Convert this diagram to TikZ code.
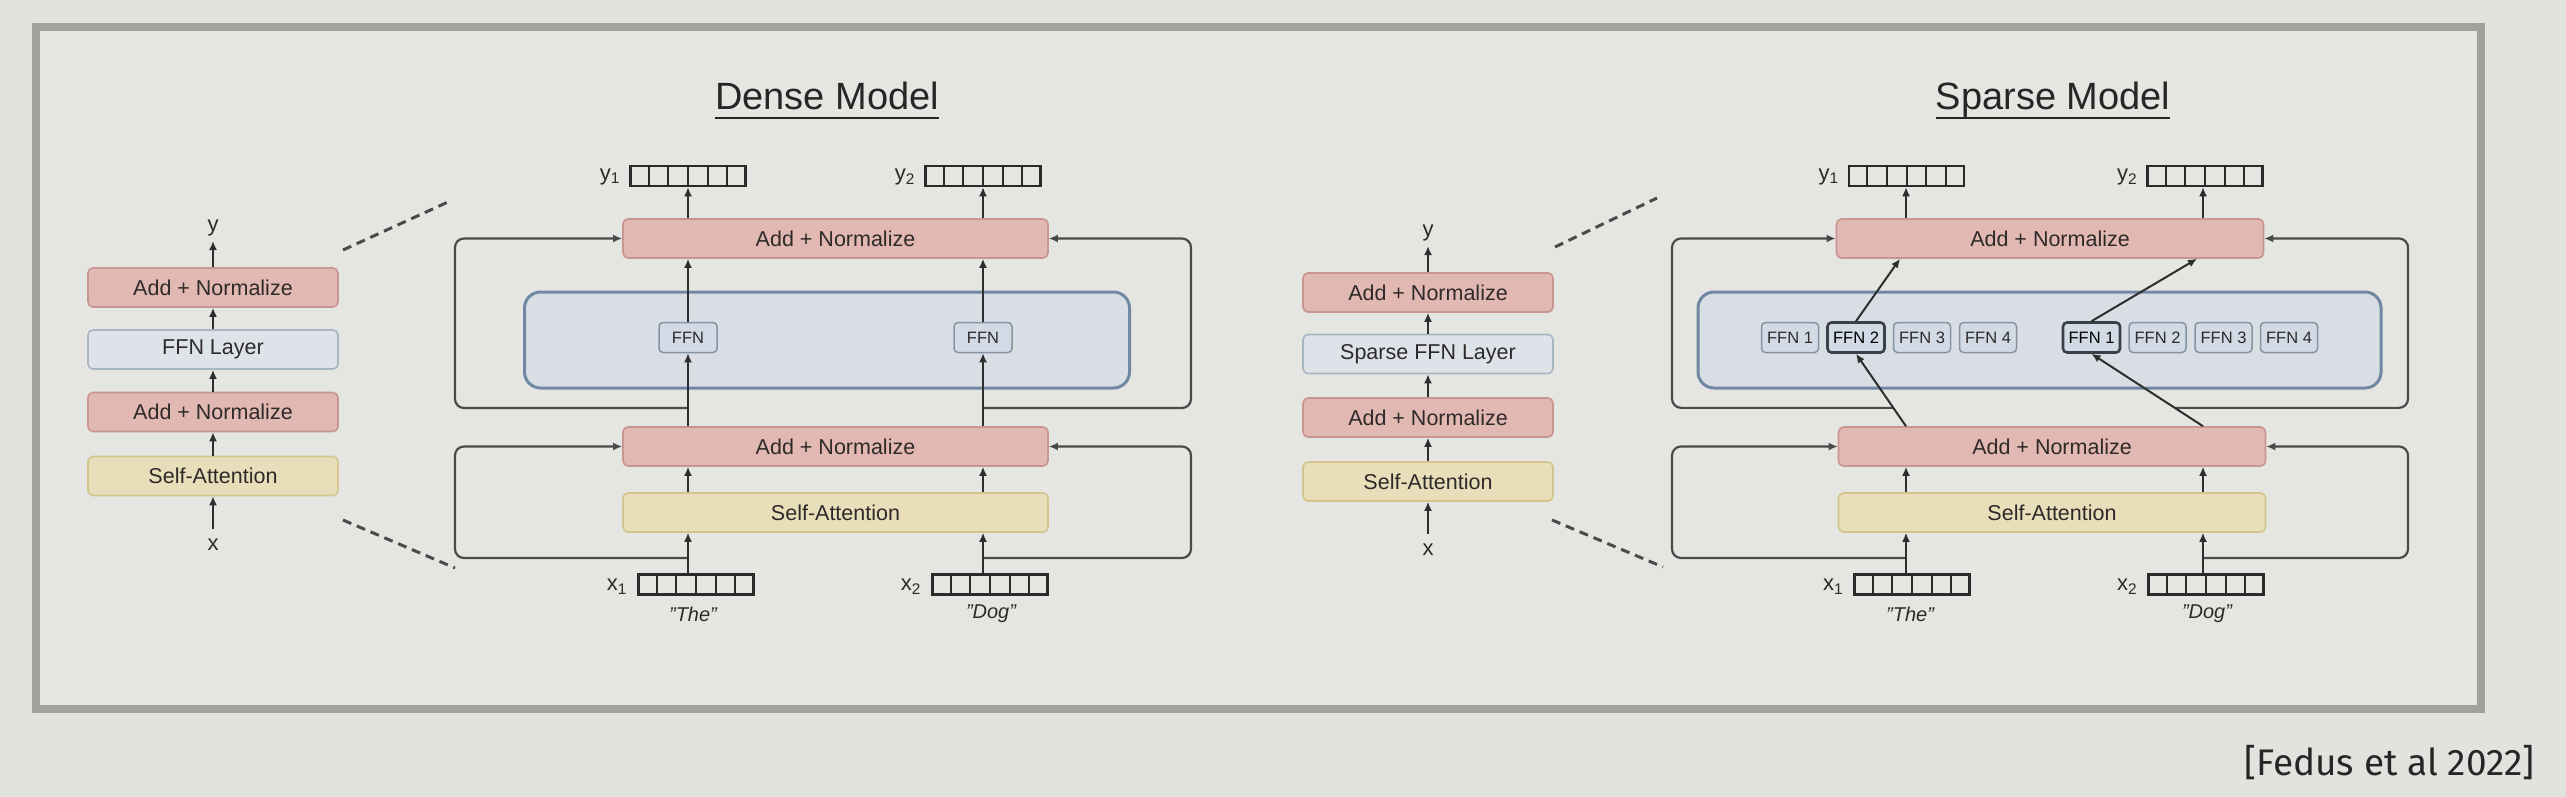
\documentclass[tikz,border=0pt]{standalone}
\usepackage{fontspec}
\setmainfont{Liberation Sans}
\newfontfamily\citefont{Fira Sans}
\usetikzlibrary{arrows.meta,calc}
\definecolor{bgc}{HTML}{E2E2DF}
\definecolor{innerc}{HTML}{E5E5E2}
\definecolor{framec}{HTML}{A2A29D}
\definecolor{anfill}{HTML}{E2B8B3}
\definecolor{anline}{HTML}{C99590}
\definecolor{safill}{HTML}{E8DEBA}
\definecolor{saline}{HTML}{D4C48E}
\definecolor{flfill}{HTML}{DDE3E8}
\definecolor{flline}{HTML}{A8B5C2}
\definecolor{ctfill}{HTML}{D8DEE3}
\definecolor{ctline}{HTML}{7088A3}
\definecolor{ffnfill}{HTML}{D2DBE5}
\definecolor{ffnline}{HTML}{8593A3}
\definecolor{selline}{HTML}{3A4048}
\definecolor{txtc}{HTML}{2F2A2A}
\definecolor{arrc}{HTML}{2E2E2E}
\definecolor{loopc}{HTML}{4A4A4A}
\definecolor{vecline}{HTML}{2A2A2A}
\definecolor{dshc}{HTML}{4A4A4A}
\definecolor{ttlc}{HTML}{262626}
\tikzset{
 blk/.style={rectangle, rounded corners=5pt, line width=1.6pt, inner sep=0pt, minimum height=39pt, text=txtc, font=\fontsize{21.5}{24}\selectfont},
 anbox/.style={blk, fill=anfill, draw=anline},
 sabox/.style={blk, fill=safill, draw=saline},
 flbox/.style={blk, fill=flfill, draw=flline},
 cont/.style={rectangle, rounded corners=16pt, line width=3pt, fill=ctfill, draw=ctline, inner sep=0pt},
 ffnbox/.style={rectangle, rounded corners=4pt, line width=1.5pt, fill=ffnfill, draw=ffnline, minimum width=57pt, minimum height=30pt, inner sep=0pt, font=\fontsize{16.5}{18}\selectfont, text=txtc},
 ffnsel/.style={ffnbox, draw=selline, line width=2.6pt, text=black},
 vecst/.style={rectangle, draw=vecline, line width=2.5pt, minimum width=115pt, minimum height=20pt, inner sep=0pt},
 arr/.style={-{Latex[length=9pt,width=8pt]}, line width=2pt, draw=arrc},
 loopl/.style={-{Latex[length=9pt,width=8pt]}, line width=2.2pt, draw=loopc, rounded corners=9pt},
 dsh/.style={dash pattern=on 9pt off 6pt, line width=3pt, draw=dshc},
 lbl/.style={inner sep=0pt, font=\fontsize{22}{24}\selectfont, text=txtc},
 wrd/.style={inner sep=0pt, font=\itshape\fontsize{20}{24}\selectfont, text=txtc},
 ttl/.style={inner sep=0pt, font=\fontsize{38}{40}\selectfont, text=ttlc},
}
\begin{document}
\begin{tikzpicture}[x=1pt,y=-1pt]
\useasboundingbox (0,0) rectangle (2566,797);
\fill[bgc] (0,0) rectangle (2566,797);
\draw[framec, line width=8pt, fill=innerc] (36,27) rectangle (2481,709);

% ---------- titles ----------
\node[ttl, anchor=base] (ttlD) at (827,110) {Dense Model};
\draw[ttlc, line width=2.5pt] ($(ttlD.base west)+(0,8)$) -- ($(ttlD.base east)+(0,8)$);
\node[ttl, anchor=base] (ttlS) at (2053,110) {Sparse Model};
\draw[ttlc, line width=2.5pt] ($(ttlS.base west)+(0,8)$) -- ($(ttlS.base east)+(0,8)$);

% ---------- dense mini stack ----------
\node[anbox, minimum width=250pt] (la1) at (213,287.5) {Add + Normalize};
\node[flbox, minimum width=250pt] (la2) at (213,349.5) {FFN Layer};
\node[anbox, minimum width=250pt] (la3) at (213,412) {Add + Normalize};
\node[sabox, minimum width=250pt] (la4) at (213,476) {Self-Attention};
\node[lbl, anchor=south] (lyl) at (213,236) {y};
\node[lbl] (lxl) at (213,545) {x};
\draw[arr, shorten <=10pt] (lxl.north) -- (la4.south);
\draw[arr] (la4.north) -- (la3.south);
\draw[arr] (la3.north) -- (la2.south);
\draw[arr] (la2.north) -- (la1.south);
\draw[arr, shorten >=5pt] (la1.north) -- (lyl.south);
\coordinate (dd1) at (343,250); \coordinate (dd2) at (448,202);
\coordinate (dd3) at (343,520); \coordinate (dd4) at (455,568);
\draw[dsh] (dd1) -- (dd2);
\draw[dsh] (dd3) -- (dd4);

% ---------- dense main ----------
\coordinate (dcL) at (688,0); \coordinate (dcR) at (983,0);
\coordinate (dxL) at (455,0); \coordinate (dxR) at (1191,0);
\node[cont, minimum width=605pt, minimum height=96pt] (dct) at (827,340) {};
\node[anbox, minimum width=425pt] (dtop) at (835.5,238.5) {Add + Normalize};
\node[anbox, minimum width=425pt] (dmid) at (835.5,446.5) {Add + Normalize};
\node[sabox, minimum width=425pt] (dsa) at (835.5,512.5) {Self-Attention};
\node[ffnbox, minimum width=58pt] (dfL) at (688,337.5) {FFN};
\node[ffnbox, minimum width=58pt] (dfR) at (983,337.5) {FFN};
\node[vecst] (dy1) at (688,176) {};
\node[vecst] (dy2) at (983,176) {};
\node[vecst] (dx1) at (696,584.5) {};
\node[vecst] (dx2) at (990,584.5) {};
\node[lbl, anchor=east] (dy1l) at ($(dy1.west)+(-9,1)$) {y\textsubscript{1}};
\node[lbl, anchor=east] (dy2l) at ($(dy2.west)+(-9,1)$) {y\textsubscript{2}};
\node[lbl, anchor=east] (dx1l) at ($(dx1.west)+(-10,2)$) {x\textsubscript{1}};
\node[lbl, anchor=east] (dx2l) at ($(dx2.west)+(-10,2)$) {x\textsubscript{2}};
\node[wrd] (dw1) at (693,614) {"The"};
\node[wrd] (dw2) at (991,614) {"Dog"};
\coordinate (dj1) at (688,408); \coordinate (dj2) at (983,408);
\coordinate (dj3) at (688,558); \coordinate (dj4) at (983,558);
\draw[loopl] (dj1) -- (dj1 -| dxL) |- (dtop.west);
\draw[loopl] (dj2) -- (dj2 -| dxR) |- (dtop.east);
\draw[loopl] (dj3) -- (dj3 -| dxL) |- (dmid.west);
\draw[loopl] (dj4) -- (dj4 -| dxR) |- (dmid.east);
\draw[arr] (dx1.north -| dcL) -- (dsa.south -| dcL);
\draw[arr] (dsa.north -| dcL) -- (dmid.south -| dcL);
\draw[arr] (dmid.north -| dcL) -- (dfL.south);
\draw[arr] (dfL.north) -- (dtop.south -| dcL);
\draw[arr] (dtop.north -| dcL) -- (dy1.south -| dcL);
\draw[arr] (dx2.north -| dcR) -- (dsa.south -| dcR);
\draw[arr] (dsa.north -| dcR) -- (dmid.south -| dcR);
\draw[arr] (dmid.north -| dcR) -- (dfR.south);
\draw[arr] (dfR.north) -- (dtop.south -| dcR);
\draw[arr] (dtop.north -| dcR) -- (dy2.south -| dcR);

% ---------- sparse mini stack ----------
\node[anbox, minimum width=250pt] (ra1) at (1428,292.5) {Add + Normalize};
\node[flbox, minimum width=250pt] (ra2) at (1428,354) {Sparse FFN Layer};
\node[anbox, minimum width=250pt] (ra3) at (1428,417.5) {Add + Normalize};
\node[sabox, minimum width=250pt] (ra4) at (1428,481.5) {Self-Attention};
\node[lbl, anchor=south] (ryl) at (1428,241) {y};
\node[lbl] (rxl) at (1428,550) {x};
\draw[arr, shorten <=10pt] (rxl.north) -- (ra4.south);
\draw[arr] (ra4.north) -- (ra3.south);
\draw[arr] (ra3.north) -- (ra2.south);
\draw[arr] (ra2.north) -- (ra1.south);
\draw[arr, shorten >=5pt] (ra1.north) -- (ryl.south);
\coordinate (sd1) at (1555,247); \coordinate (sd2) at (1657,198);
\coordinate (sd3) at (1552,520); \coordinate (sd4) at (1663,567);
\draw[dsh] (sd1) -- (sd2);
\draw[dsh] (sd3) -- (sd4);

% ---------- sparse main ----------
\coordinate (scL) at (1906,0); \coordinate (scR) at (2203,0);
\coordinate (sxL) at (1672,0); \coordinate (sxR) at (2408,0);
\node[cont, minimum width=683pt, minimum height=96pt] (sct) at (2039.5,340) {};
\node[anbox, minimum width=427pt] (stop) at (2050,238.5) {Add + Normalize};
\node[anbox, minimum width=427pt] (smid) at (2052,446.5) {Add + Normalize};
\node[sabox, minimum width=427pt] (ssa) at (2052,512.5) {Self-Attention};
\node[ffnbox] (sa1) at (1790,337.5) {FFN 1};
\node[ffnsel] (sa2) at (1856,337.5) {FFN 2};
\node[ffnbox] (sa3) at (1922,337.5) {FFN 3};
\node[ffnbox] (sa4) at (1988,337.5) {FFN 4};
\node[ffnsel] (sb1) at (2091.5,337.5) {FFN 1};
\node[ffnbox] (sb2) at (2157.5,337.5) {FFN 2};
\node[ffnbox] (sb3) at (2223.5,337.5) {FFN 3};
\node[ffnbox] (sb4) at (2289,337.5) {FFN 4};
\node[vecst] (sy1) at (1906.5,176) {};
\node[vecst] (sy2) at (2205,176) {};
\node[vecst] (sx1) at (1912,584.5) {};
\node[vecst] (sx2) at (2206,584.5) {};
\node[lbl, anchor=east] (sy1l) at ($(sy1.west)+(-9,1)$) {y\textsubscript{1}};
\node[lbl, anchor=east] (sy2l) at ($(sy2.west)+(-9,1)$) {y\textsubscript{2}};
\node[lbl, anchor=east] (sx1l) at ($(sx1.west)+(-10,2)$) {x\textsubscript{1}};
\node[lbl, anchor=east] (sx2l) at ($(sx2.west)+(-10,2)$) {x\textsubscript{2}};
\node[wrd] (sw1) at (1910,614) {"The"};
\node[wrd] (sw2) at (2207,614) {"Dog"};
\coordinate (sj1) at ($(smid.north -| scL)!0.2533!(sa2.south)$);
\coordinate (sj2) at ($(smid.north -| scR)!0.2533!(sb1.south)$);
\coordinate (sj3) at (1906,558); \coordinate (sj4) at (2203,558);
\draw[loopl] (sj1) -- (sj1 -| sxL) |- (stop.west);
\draw[loopl] (sj2) -- (sj2 -| sxR) |- (stop.east);
\draw[loopl] (sj3) -- (sj3 -| sxL) |- (smid.west);
\draw[loopl] (sj4) -- (sj4 -| sxR) |- (smid.east);
\draw[arr] (sx1.north -| scL) -- (ssa.south -| scL);
\draw[arr] (ssa.north -| scL) -- (smid.south -| scL);
\draw[arr] (smid.north -| scL) -- (sa2.south);
\draw[arr] (sa2.north) -- ($(stop.south -| scL)+(-6,0)$);
\draw[arr] (stop.north -| scL) -- (sy1.south -| scL);
\draw[arr] (sx2.north -| scR) -- (ssa.south -| scR);
\draw[arr] (ssa.north -| scR) -- (smid.south -| scR);
\draw[arr] (smid.north -| scR) -- (sb1.south);
\draw[arr] (sb1.north) -- ($(stop.south -| scR)+(-6,0)$);
\draw[arr] (stop.north -| scR) -- (sy2.south -| scR);

% ---------- vector cells ----------
\foreach \v in {dy1,dy2,dx1,dx2,sy1,sy2,sx1,sx2}{
  \foreach \i in {1,...,5}{
    \draw[vecline, line width=2pt] ($(\v.north west)!\i/6!(\v.north east)$) -- ($(\v.south west)!\i/6!(\v.south east)$);
  }
}

% ---------- citation ----------
\node[inner sep=0pt, anchor=base east, font=\citefont\fontsize{37}{40}\selectfont, text=ttlc] (cite) at (2535,775) {[Fedus et al 2022]};
\end{tikzpicture}
\end{document}
